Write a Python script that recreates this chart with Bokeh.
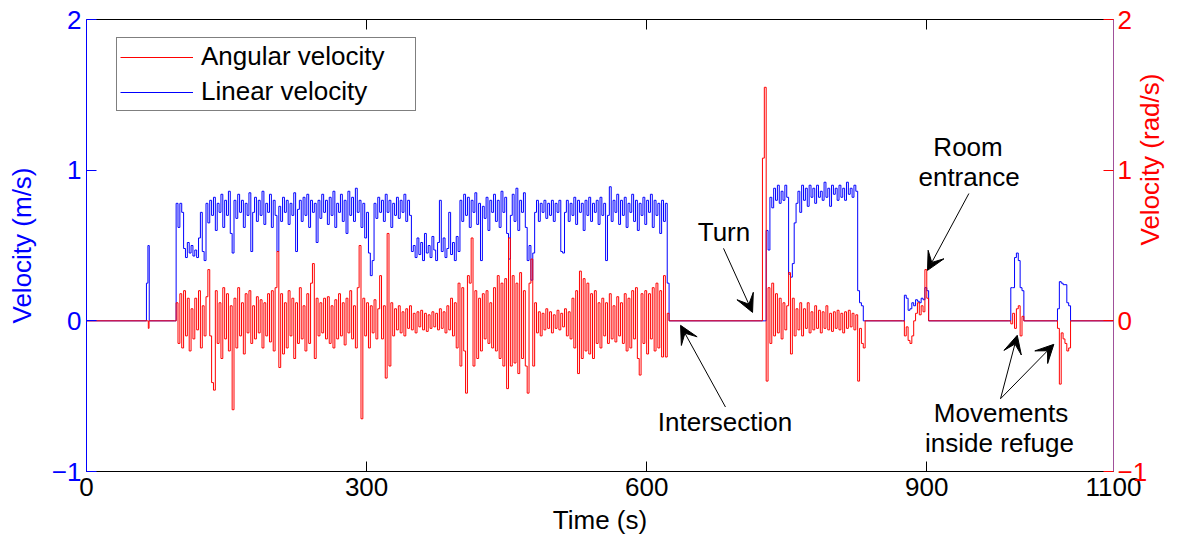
import math
from bokeh.plotting import figure
from bokeh.models import (Range1d, LinearAxis, FixedTicker, Legend, LegendItem,
                          Label, Arrow, VeeHead)
from bokeh.embed import file_html
from bokeh.resources import INLINE

FONT = "Liberation Sans"

# ---------------- axes ----------------
x_ticks = [0, 300, 600, 900, 1100]
x_top_ticks = [300, 600, 900]
y_ticks = [-1, 0, 1, 2]
y_tick_labels = {-1: "\u22121", 0: "0", 1: "1", 2: "2"}

# ---------------- data (sampled every 2 s inside active segments) ----------------
STEP = 2.0

# short blip at ~65 s
lin_blip_t = [63.8, 64.2, 65.4, 65.8, 66.8, 67.2]
lin_blip_v = [0.0, 0.25, 0.25, 0.5, 0.5, 0.0]
ang_blip_t = [65.8, 66.2, 67.0]
ang_blip_v = [0.0, -0.05, 0.0]

# long run 94 s .. 624 s
lin_b_start = 94.0
lin_b = [0.0,
    0.78, 0.62, 0.78, 0.72, 0.48, 0.42, 0.52, 0.45, 0.50, 0.43,
    0.47, 0.42, 0.55, 0.72, 0.46, 0.40, 0.78, 0.65, 0.80, 0.70,
    0.82, 0.60, 0.78, 0.72, 0.84, 0.62, 0.80, 0.70, 0.86, 0.58,
    0.45, 0.80, 0.68, 0.84, 0.72, 0.80, 0.62, 0.78, 0.70, 0.85,
    0.46, 0.72, 0.82, 0.66, 0.80, 0.70, 0.86, 0.64, 0.78, 0.72,
    0.84, 0.62, 0.80, 0.70, 0.46, 0.76, 0.66, 0.82, 0.72, 0.80,
    0.64, 0.78, 0.70, 0.85, 0.46, 0.74, 0.80, 0.66, 0.82, 0.70,
    0.84, 0.62, 0.80, 0.72, 0.78, 0.52, 0.80, 0.68, 0.84, 0.72,
    0.80, 0.64, 0.82, 0.70, 0.86, 0.62, 0.78, 0.72, 0.84, 0.66,
    0.80, 0.58, 0.86, 0.70, 0.82, 0.66, 0.88, 0.72, 0.80, 0.62,
    0.78, 0.55, 0.72, 0.45, 0.30, 0.40, 0.78, 0.68, 0.82, 0.72,
    0.80, 0.66, 0.84, 0.72, 0.80, 0.62, 0.78, 0.70, 0.82, 0.68,
    0.80, 0.72, 0.84, 0.66, 0.80, 0.70, 0.46, 0.50, 0.42, 0.55,
    0.44, 0.52, 0.40, 0.58, 0.45, 0.50, 0.42, 0.56, 0.47, 0.40,
    0.52, 0.80, 0.46, 0.55, 0.42, 0.48, 0.72, 0.44, 0.52, 0.40,
    0.56, 0.46, 0.80, 0.66, 0.84, 0.70, 0.82, 0.62, 0.80, 0.72,
    0.85, 0.64, 0.78, 0.40, 0.76, 0.68, 0.82, 0.60, 0.80, 0.72,
    0.84, 0.66, 0.80, 0.62, 0.86, 0.72, 0.82, 0.58, 0.41, 0.70,
    0.84, 0.66, 0.88, 0.60, 0.80, 0.72, 0.85, 0.62, 0.40, 0.50,
    0.27, 0.45, 0.72, 0.80, 0.66, 0.78, 0.72, 0.80, 0.68, 0.78,
    0.70, 0.80, 0.66, 0.78, 0.72, 0.80, 0.46, 0.45, 0.72, 0.80,
    0.66, 0.78, 0.70, 0.82, 0.64, 0.80, 0.72, 0.78, 0.60, 0.80,
    0.70, 0.82, 0.66, 0.78, 0.72, 0.80, 0.64, 0.82, 0.70, 0.78,
    0.40, 0.70, 0.89, 0.66, 0.80, 0.72, 0.84, 0.64, 0.80, 0.70,
    0.82, 0.62, 0.78, 0.72, 0.84, 0.66, 0.80, 0.60, 0.78, 0.70,
    0.82, 0.64, 0.80, 0.72, 0.84, 0.62, 0.80, 0.70, 0.78, 0.58,
    0.80, 0.66, 0.78, 0.25,
    0.0]

ang_b_start = 94.0
ang_b = [0.0,
    0.12, -0.15, 0.18, -0.18, 0.20, -0.10, 0.15, -0.20, 0.08, -0.12,
    0.15, -0.06, 0.20, -0.18, 0.10, -0.10, 0.16, 0.34, -0.10, -0.41,
    -0.46, 0.20, -0.15, 0.12, -0.25, 0.22, -0.12, 0.18, -0.20, 0.10,
    -0.59, 0.15, -0.18, 0.22, -0.10, 0.12, -0.22, 0.18, -0.08, 0.20,
    -0.15, 0.10, -0.12, 0.16, -0.08, 0.14, -0.18, 0.12, -0.10, 0.18,
    -0.14, 0.20, -0.20, 0.22, 0.46, -0.31, 0.18, -0.22, 0.12, -0.18,
    0.20, -0.10, 0.15, -0.25, 0.12, -0.15, 0.22, -0.12, 0.10, -0.20,
    0.18, -0.15, 0.25, 0.38, -0.25, 0.15, -0.10, 0.12, -0.08, 0.15,
    -0.12, 0.16, -0.15, 0.10, -0.18, 0.14, -0.12, 0.18, -0.10, 0.12,
    -0.16, 0.15, -0.08, 0.20, -0.12, 0.10, -0.18, 0.22, 0.50, -0.65,
    0.15, -0.10, 0.12, -0.18, 0.10, -0.08, 0.14, -0.12, 0.08, 0.30,
    -0.12, 0.10, -0.38, 0.58, -0.30, 0.12, -0.10, 0.08, -0.06, 0.10,
    -0.08, 0.06, -0.10, 0.08, -0.05, 0.10, -0.06, 0.05, -0.08, 0.06,
    -0.04, 0.07, -0.06, 0.05, -0.07, 0.04, -0.05, 0.06, -0.04, 0.05,
    -0.06, 0.08, -0.05, 0.06, -0.08, 0.10, -0.06, 0.15, -0.10, 0.12,
    -0.18, 0.25, -0.30, 0.22, -0.20, -0.48, 0.30, 0.25, 0.55, -0.30,
    0.20, -0.25, 0.15, -0.20, 0.18, -0.12, 0.20, -0.15, 0.12, -0.18,
    0.22, -0.20, 0.30, -0.25, 0.25, -0.30, 0.28, -0.45, 0.55, -0.30,
    0.30, -0.28, 0.25, -0.35, 0.32, -0.25, 0.20, -0.30, -0.48, 0.25,
    0.41, -0.30, 0.12, -0.08, 0.06, -0.10, 0.05, -0.06, 0.08, -0.05,
    0.06, -0.08, 0.04, -0.05, 0.07, -0.06, 0.05, -0.04, 0.08, -0.10,
    0.06, -0.12, 0.15, -0.18, 0.20, -0.35, 0.33, -0.25, 0.28, -0.20,
    0.25, -0.22, 0.18, -0.25, 0.20, -0.15, 0.12, -0.18, 0.15, -0.10,
    0.12, -0.15, 0.18, -0.12, 0.10, -0.14, 0.16, -0.10, 0.12, -0.15,
    0.18, -0.20, 0.15, -0.18, 0.20, -0.12, 0.22, -0.25, -0.36, 0.18,
    -0.15, 0.20, -0.22, 0.18, -0.12, 0.22, -0.20, 0.25, -0.18, 0.20,
    -0.24, 0.30, -0.24, 0.05,
    0.0]

# turn + corridor 722 s .. 834 s
lin_c_start = 726.0
lin_c = [0.0, 0.60, 0.47, 0.82, 0.75, 0.88, 0.80, 0.90, 0.78, 0.86,
    0.80, 0.90, 0.82, 0.31, 0.29, 0.38, 0.65, 0.78, 0.86, 0.72,
    0.90, 0.80, 0.88, 0.76, 0.90, 0.82, 0.88, 0.78, 0.90, 0.82,
    0.86, 0.80, 0.92, 0.82, 0.88, 0.76, 0.90, 0.84, 0.88, 0.80,
    0.90, 0.82, 0.88, 0.80, 0.92, 0.84, 0.88, 0.82, 0.90, 0.86,
    0.20, 0.12, 0.10, 0.0]

ang_c_start = 722.0
ang_c = [0.0, 1.08, 1.55, -0.40, 0.22, -0.15, 0.25, -0.10, 0.18, -0.08,
    0.15, -0.12, 0.12, -0.06, 0.10, 0.32, -0.22, 0.15, -0.10, 0.08,
    -0.06, 0.12, -0.10, 0.08, -0.05, 0.12, -0.08, 0.06, -0.06, 0.10,
    -0.05, 0.07, -0.08, 0.06, -0.05, 0.10, -0.06, 0.05, -0.07, 0.06,
    -0.05, 0.07, -0.06, 0.05, -0.08, 0.06, -0.05, 0.07, -0.04, 0.05,
    -0.06, 0.04, -0.40, -0.05, -0.15, -0.18, 0.0]

# room entrance 874 s .. 902 s
lin_d_start = 874.0
lin_d = [0.0, 0.17, 0.15, 0.07, 0.08, 0.12, 0.10, 0.14, 0.13, 0.12, 0.15, 0.14, 0.22, 0.20, 0.0]
ang_d_start = 874.0
ang_d = [0.0, -0.10, -0.04, -0.13, -0.15, -0.10, 0.0, 0.05, 0.12, 0.04, 0.10, 0.06, 0.34, 0.15, 0.0]

# movements inside refuge
lin_e_start = 988.0
lin_e = [0.0, 0.22, 0.22, 0.42, 0.45, 0.40, 0.22, 0.20, 0.0]
ang_e_start = 988.0
ang_e = [0.0, -0.02, 0.05, -0.05, 0.08, 0.10, -0.10, 0.03, 0.0]

lin_f_start = 1038.0
lin_f = [0.0, 0.08, 0.26, 0.25, 0.24, 0.24, 0.12, 0.10, 0.0]
ang_f_start = 1038.0
ang_f = [0.0, -0.05, -0.42, -0.08, -0.12, -0.15, -0.20, -0.18, 0.0]

# annotations
ann_texts = ["Turn", "Intersection", "Room", "entrance", "Movements", "inside refuge"]
ann_x = [682.8, 683.9, 944.2, 945.3, 979.5, 977.9]
ann_y = [0.587, -0.674, 1.152, 0.952, -0.615, -0.814]
arrow_x0 = [682.3, 684.4, 945.1, 979.0, 979.0]
arrow_y0 = [0.481, -0.572, 0.845, -0.517, -0.517]
arrow_x1 = [713.4, 636.3, 900.8, 996.9, 1036.1]
arrow_y1 = [0.056, -0.030, 0.335, -0.096, -0.156]


def grid(start, vals):
    return [start + STEP * i for i in range(len(vals))]


def build(pieces):
    t, v = [0.0], [0.0]
    for times, vals in pieces:
        t.extend(times)
        v.extend(vals)
    t.append(1100.0)
    v.append(0.0)
    return t, v


lin_t, lin_v = build([
    (lin_blip_t, lin_blip_v),
    (grid(lin_b_start, lin_b), lin_b),
    (grid(lin_c_start, lin_c), lin_c),
    (grid(lin_d_start, lin_d), lin_d),
    (grid(lin_e_start, lin_e), lin_e),
    (grid(lin_f_start, lin_f), lin_f),
])
ang_t, ang_v = build([
    (ang_blip_t, ang_blip_v),
    (grid(ang_b_start, ang_b), ang_b),
    (grid(ang_c_start, ang_c), ang_c),
    (grid(ang_d_start, ang_d), ang_d),
    (grid(ang_e_start, ang_e), ang_e),
    (grid(ang_f_start, ang_f), ang_f),
])

# ---------------- figure ----------------
p = figure(width=1183, height=538, x_range=Range1d(0, 1100), y_range=Range1d(-1, 2),
           output_backend="svg", toolbar_location=None,
           min_border_left=86, min_border_right=70, min_border_top=19, min_border_bottom=67)
p.extra_y_ranges = {"right": Range1d(-1, 2)}
p.outline_line_color = None
p.xgrid.visible = False
p.ygrid.visible = False
p.background_fill_color = "white"
p.border_fill_color = "white"


def style_axis(ax, color, line_color=None, label_size="26px", standoff=5):
    ax.axis_line_color = line_color or color
    ax.major_tick_line_color = color
    ax.major_label_text_color = color
    ax.major_tick_in = 10
    ax.major_tick_out = 0
    ax.minor_tick_line_color = None
    ax.major_label_text_font = FONT
    ax.major_label_text_font_size = label_size
    ax.major_label_standoff = standoff
    ax.axis_label_text_font = FONT
    ax.axis_label_text_font_size = "26px"
    ax.axis_label_text_font_style = "normal"
    ax.axis_label_text_color = color


xa = p.xaxis[0]
xa.ticker = FixedTicker(ticks=x_ticks)
style_axis(xa, "black", standoff=6)
xa.axis_label = "Time (s)"
xa.axis_label_standoff = 6
xa.axis_label_text_line_height = 0.8

ya = p.yaxis[0]
ya.ticker = FixedTicker(ticks=y_ticks)
ya.major_label_overrides = y_tick_labels
style_axis(ya, "blue", standoff=5)
ya.axis_label = "Velocity (m/s)"
ya.axis_label_standoff = 12

top = LinearAxis(ticker=FixedTicker(ticks=x_top_ticks))
style_axis(top, "black", label_size="1px", standoff=0)
top.major_label_text_color = None
p.add_layout(top, "above")

right = LinearAxis(y_range_name="right", ticker=FixedTicker(ticks=y_ticks),
                   major_label_overrides=y_tick_labels)
style_axis(right, "red", line_color="#a0509a", standoff=4)
right.axis_label = "Velocity (rad/s)"
right.axis_label_standoff = 0
try:
    right.axis_label_orientation = math.pi / 2
except AttributeError:
    pass
p.add_layout(right, "right")

r_lin = p.step(lin_t, lin_v, mode="after", line_color="blue", line_width=1)
r_ang = p.step(ang_t, ang_v, mode="after", line_color="red", line_width=1,
               y_range_name="right")

legend = Legend(items=[LegendItem(label="Angular velocity", renderers=[r_ang]),
                       LegendItem(label="Linear velocity", renderers=[r_lin])],
                location=(30, 360), orientation="vertical",
                label_text_font=FONT, label_text_font_size="26px", label_text_color="black",
                glyph_width=73, glyph_height=30, label_height=30, label_width=211,
                label_standoff=8, padding=3, spacing=4,
                border_line_color="black", border_line_width=1,
                background_fill_color="white", background_fill_alpha=1.0)
p.add_layout(legend)

for txt, x, y in zip(ann_texts, ann_x, ann_y):
    p.add_layout(Label(x=x, y=y, text=txt, text_align="center", text_baseline="alphabetic",
                       text_color="black", text_font=FONT, text_font_size="26px"))

for x0, y0, x1, y1 in zip(arrow_x0, arrow_y0, arrow_x1, arrow_y1):
    p.add_layout(Arrow(end=VeeHead(size=18, fill_color="black", line_color="black", line_width=1),
                       x_start=x0, y_start=y0, x_end=x1, y_end=y1,
                       line_color="black", line_width=1))

open("out.html", "w").write(file_html(p, INLINE))
